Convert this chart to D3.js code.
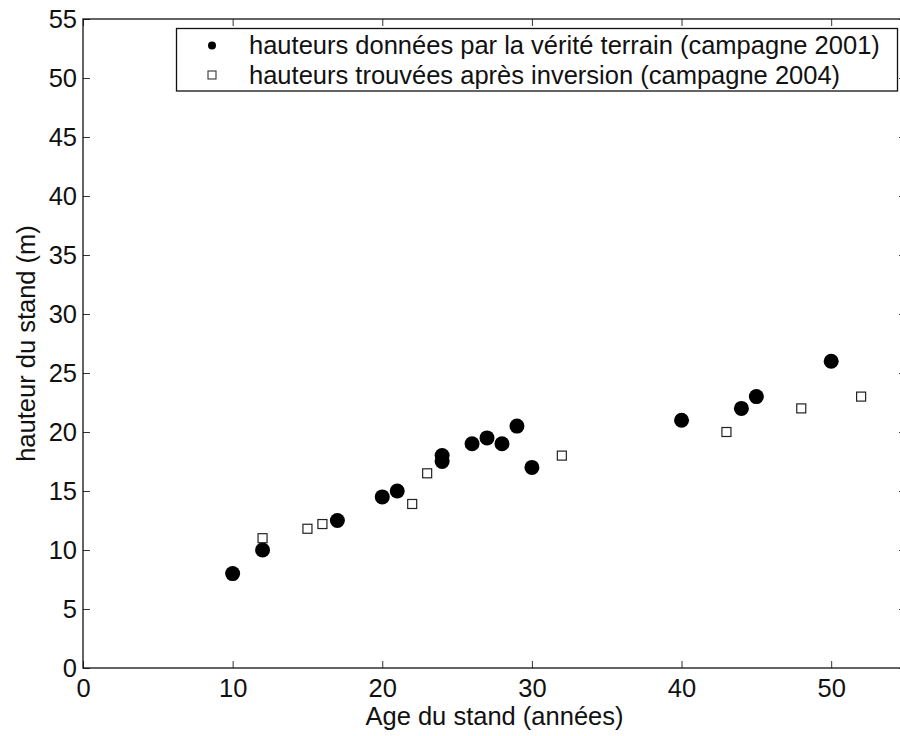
<!DOCTYPE html>
<html>
<head>
<meta charset="utf-8">
<script src="https://cdn.jsdelivr.net/npm/d3@7"></script>
<style>
  html, body { margin: 0; padding: 0; background: #fff; }
  svg { display: block; font-family: "Liberation Sans", Arial, Helvetica, sans-serif; }
</style>
</head>
<body>
<svg id="chart" width="900" height="736"></svg>
<script>
// Ground-truth heights (2001 field campaign)
const truthAge    = [10, 12, 17, 20, 21, 24, 24, 26, 27, 28, 29, 30, 40, 44, 45, 50];
const truthHeight = [8, 10, 12.5, 14.5, 15, 18, 17.5, 19, 19.5, 19, 20.5, 17, 21, 22, 23, 26];

// Heights retrieved by inversion (2004 campaign)
const invAge    = [12, 15, 16, 22, 23, 32, 43, 48, 52];
const invHeight = [11, 11.8, 12.2, 13.9, 16.5, 18, 20, 22, 23];

const xTicks = [0, 10, 20, 30, 40, 50];
const yTicks = [0, 5, 10, 15, 20, 25, 30, 35, 40, 45, 50, 55];

const legendLabels = [
  "hauteurs données par la vérité terrain (campagne 2001)",
  "hauteurs trouvées après inversion (campagne 2004)"
];

const svg = d3.select("#chart");
const plotLeft = 83, plotRight = 906, plotTop = 19, plotBottom = 668;

const x = d3.scaleLinear().domain([0, 55]).range([plotLeft, plotRight]);
const y = d3.scaleLinear().domain([0, 55]).range([plotBottom, plotTop]);

const tickLen = 7;
const fontSize = 25.5;
const ink = "#111";

// Axes (bottom / left with labels, top / right ticks only)
const gx = svg.append("g").attr("transform", `translate(0,${plotBottom})`)
  .call(d3.axisBottom(x).tickValues(xTicks).tickSizeInner(-tickLen).tickSizeOuter(0));
const gy = svg.append("g").attr("transform", `translate(${plotLeft},0)`)
  .call(d3.axisLeft(y).tickValues(yTicks).tickSizeInner(-tickLen).tickSizeOuter(0).tickPadding(6));
const gxt = svg.append("g").attr("transform", `translate(0,${plotTop})`)
  .call(d3.axisTop(x).tickValues(xTicks).tickSizeInner(-tickLen).tickSizeOuter(0).tickFormat(""));
const gyr = svg.append("g").attr("transform", `translate(${plotRight},0)`)
  .call(d3.axisRight(y).tickValues(yTicks).tickSizeInner(-tickLen).tickSizeOuter(0).tickFormat(""));

[gx, gy, gxt, gyr].forEach(g => {
  g.select(".domain").remove();
  g.selectAll(".tick line").attr("stroke", "#333").attr("stroke-width", 1);
  g.selectAll(".tick text").attr("font-size", fontSize).attr("fill", ink)
    .attr("font-family", "Liberation Sans, Arial, sans-serif");
});
gx.selectAll(".tick text").attr("y", 29).attr("dy", 0);
gy.selectAll(".tick text").attr("dy", "0.35em");

// Plot box
svg.append("rect")
  .attr("x", plotLeft).attr("y", plotTop)
  .attr("width", plotRight - plotLeft).attr("height", plotBottom - plotTop)
  .attr("fill", "none").attr("stroke", ink).attr("stroke-width", 1.3);

// Markers
svg.append("g").selectAll("circle")
  .data(truthAge.map((a, i) => [a, truthHeight[i]]))
  .join("circle")
  .attr("cx", d => x(d[0])).attr("cy", d => y(d[1]))
  .attr("r", 7.5).attr("fill", "#000");

const sq = 9;
svg.append("g").selectAll("rect")
  .data(invAge.map((a, i) => [a, invHeight[i]]))
  .join("rect")
  .attr("x", d => x(d[0]) - sq / 2).attr("y", d => y(d[1]) - sq / 2)
  .attr("width", sq).attr("height", sq)
  .attr("fill", "#fff").attr("stroke", "#222").attr("stroke-width", 1.2);

// Legend
const lg = svg.append("g");
lg.append("rect")
  .attr("x", 176.5).attr("y", 28.5).attr("width", 721).attr("height", 62.5)
  .attr("fill", "#fff").attr("stroke", ink).attr("stroke-width", 1.3);
lg.append("circle").attr("cx", 212).attr("cy", 45.5).attr("r", 4).attr("fill", "#000");
lg.append("rect").attr("x", 208).attr("y", 71).attr("width", 8).attr("height", 8)
  .attr("fill", "#fff").attr("stroke", "#222").attr("stroke-width", 1);
legendLabels.forEach((t, i) => {
  lg.append("text").attr("x", 249).attr("y", 54 + i * 30)
    .attr("font-size", fontSize).attr("fill", ink).text(t);
});

// Axis titles
svg.append("text")
  .attr("x", (plotLeft + plotRight) / 2).attr("y", 725)
  .attr("text-anchor", "middle").attr("font-size", fontSize).attr("fill", ink)
  .text("Age du stand (années)");
svg.append("text")
  .attr("transform", `translate(35,${(plotTop + plotBottom) / 2}) rotate(-90)`)
  .attr("text-anchor", "middle").attr("font-size", fontSize).attr("fill", ink)
  .text("hauteur du stand (m)");
</script>
</body>
</html>
